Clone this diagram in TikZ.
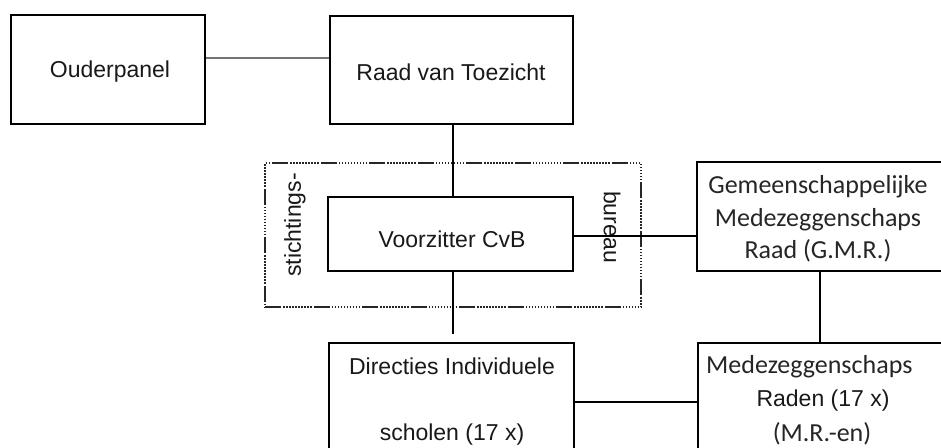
\documentclass[tikz,border=0pt]{standalone}
\usepackage{fontspec}
\setmainfont{Liberation Sans}
\newfontfamily\calfont{Carlito}
\begin{document}
\begin{tikzpicture}[x=1pt,y=-1pt,
  box/.style={draw=black,line width=2.8pt,rectangle,inner sep=0pt,fill=white},
  thinbox/.style={draw=black,line width=1.8pt,rectangle,inner sep=0pt,fill=white},
  txt/.style={font=\fontsize{23}{27}\selectfont,inner sep=0pt,text=black!90},
  caltxt/.style={font=\calfont\fontsize{26}{32.5}\selectfont,inner sep=0pt,text=black!85,align=center},
  conn/.style={draw=black,line width=1.4pt},
  grayconn/.style={draw=black!55,line width=2.6pt},
  dashbox/.style={draw=black!85,line width=1.1pt,
     dash pattern=on 16pt off 2pt on 1.5pt off 1.5pt on 1.5pt off 1.5pt on 1.5pt off 1.5pt on 1.5pt off 1.5pt on 1.5pt off 1.5pt on 1.5pt off 1.5pt on 1.5pt off 1.5pt on 1.5pt off 1.5pt on 1.5pt off 1.5pt on 1.5pt off 2pt}]
\path[use as bounding box] (0,0) rectangle (941,447);
\clip (0,0) rectangle (941,447);
\fill[white] (0,0) rectangle (941,447);

% dashed stichtingsbureau frame
\node[dashbox,rectangle,minimum width=376pt,minimum height=144pt,inner sep=0pt] (sb) at (453,235) {};
\node[txt,rotate=90] (stl) at (295,225) {stichtings-};
\node[txt,rotate=-90] (bul) at (612,227) {bureau};

% boxes
\node[box,minimum width=194pt,minimum height=109pt] (op) at (108,69.5) {};
\node[txt] (optxt) at (110,72) {Ouderpanel};
\node[box,minimum width=243pt,minimum height=108pt] (rvt) at (451.5,70) {};
\node[txt] (rvttxt) at (451,72) {Raad van Toezicht};
\node[thinbox,minimum width=245pt,minimum height=74pt] (vz) at (450.5,234) {};
\node[txt] (vztxt) at (452,239) {Voorzitter CvB};
\node[box,minimum width=263pt,minimum height=109pt] (gmr) at (828.5,216.5) {};
\node[caltxt] (gmrtxt) at (818,219) {Gemeenschappelijke\\Medezeggenschaps\\Raad (G.M.R.)};
\node[box,minimum width=245pt,minimum height=147pt] (dir) at (451.5,416.5) {};
\node[txt] (dir1) at (452,366) {Directies Individuele};
\node[txt] (dir2) at (452,435) {scholen (17 x)};
\node[box,minimum width=262pt,minimum height=147pt] (mr) at (829,416.5) {};
\node[caltxt,anchor=west] (mr1) at (706,367) {Medezeggenschaps};
\node[txt] (mr2) at (823,401) {Raden (17 x)};
\node[caltxt] (mr3) at (822,434) {(M.R.-en)};

% connectors
\draw[grayconn] ([yshift=11.5pt]op.east) -- ([yshift=11.5pt]op.east -| rvt.west);
\draw[conn] ([xshift=1.5pt]rvt.south) -- ([xshift=1.5pt]rvt.south |- vz.north);
\draw[conn,shorten >=8pt] ([xshift=2.5pt]vz.south) -- ([xshift=2.5pt]vz.south |- dir.north);
\draw[conn] ([yshift=-2pt]vz.east) -- ([yshift=-2pt]vz.east -| gmr.west);
\draw[conn] ([xshift=-8.5pt]gmr.south) -- ([xshift=-8.5pt]gmr.south |- mr.north);
\draw[conn] ([yshift=14.5pt]dir.east) -- ([yshift=14.5pt]dir.east -| mr.west);
\end{tikzpicture}
\end{document}
